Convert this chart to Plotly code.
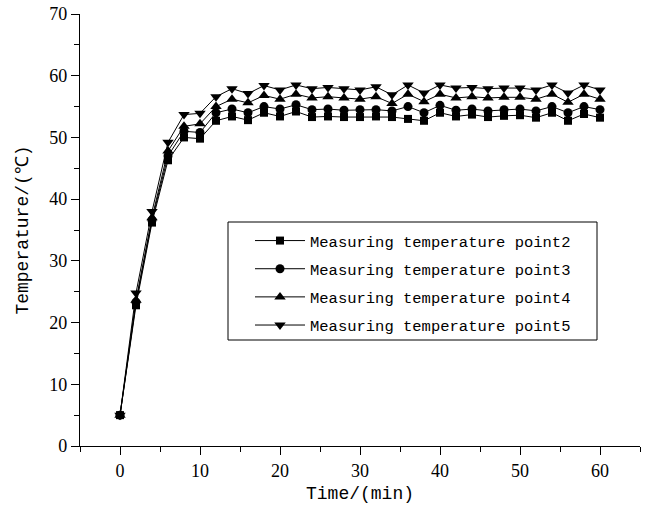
import plotly.graph_objects as go

time_min = [0, 2, 4, 6, 8, 10, 12, 14, 16, 18, 20, 22, 24, 26, 28, 30,
            32, 34, 36, 38, 40, 42, 44, 46, 48, 50, 52, 54, 56, 58, 60]

point2 = [5.0, 22.8, 36.2, 46.3, 50.0, 49.8, 52.7, 53.4, 52.8, 54.0, 53.4,
          54.2, 53.3, 53.4, 53.3, 53.3, 53.4, 53.3, 53.0, 52.7, 54.0, 53.4,
          53.7, 53.3, 53.5, 53.6, 53.2, 54.0, 52.7, 53.8, 53.2]
point3 = [5.0, 23.3, 36.6, 47.0, 51.0, 50.8, 54.0, 54.6, 54.0, 55.0, 54.6,
          55.3, 54.5, 54.6, 54.4, 54.5, 54.5, 54.3, 55.0, 54.0, 55.2, 54.4,
          54.6, 54.3, 54.5, 54.6, 54.3, 55.0, 54.0, 55.0, 54.5]
point4 = [5.0, 23.6, 37.0, 47.8, 51.8, 52.2, 55.0, 56.2, 55.6, 56.8, 56.2,
          57.0, 56.4, 56.6, 56.4, 56.2, 56.6, 55.5, 57.0, 55.8, 57.0, 56.4,
          56.6, 56.4, 56.5, 56.5, 56.2, 57.0, 55.7, 57.0, 56.2]
point5 = [5.0, 24.8, 38.0, 49.2, 53.7, 53.9, 56.6, 57.9, 57.1, 58.4, 57.7,
          58.5, 57.9, 58.1, 57.9, 57.7, 58.2, 56.9, 58.5, 57.2, 58.5, 58.0,
          58.1, 57.9, 58.0, 58.0, 57.7, 58.5, 57.2, 58.5, 57.7]

series_names = ["Measuring temperature point2", "Measuring temperature point3",
                "Measuring temperature point4", "Measuring temperature point5"]
series_values = [point2, point3, point4, point5]
symbols = ["square", "circle", "triangle-up", "triangle-down"]
sizes = [8, 9, 10, 10]

x_ticks = [0, 10, 20, 30, 40, 50, 60]
y_ticks = [0, 10, 20, 30, 40, 50, 60, 70]

fig = go.Figure()
for i, (name, vals, sym, sz) in enumerate(zip(series_names, series_values, symbols, sizes)):
    fig.add_trace(go.Scatter(
        x=time_min, y=vals, name=name, mode="lines+markers",
        legendgroup=f"g{i}",
        line=dict(color="black", width=1),
        marker=dict(symbol=sym, size=sz, color="black", line=dict(width=0)),
    ))

axis_common = dict(
    showline=True, linecolor="black", linewidth=1.2,
    ticks="outside", tickcolor="black", ticklen=8, tickwidth=1.2,
    showgrid=False, zeroline=False, automargin=False,
    tickfont=dict(family="Liberation Serif", size=18, color="black"),
)

fig.update_layout(
    width=649, height=509,
    margin=dict(l=80, r=9, t=14, b=63),
    paper_bgcolor="white", plot_bgcolor="white",
    font=dict(family="Liberation Mono", color="black"),
    xaxis=dict(range=[-5, 65], tickvals=x_ticks,
               minor=dict(ticks="outside", ticklen=5, dtick=5, tick0=0,
                          tickcolor="black", tickwidth=1.2, showgrid=False),
               title=dict(text="Time/(min)", font=dict(family="Liberation Mono", size=18),
                          standoff=6),
               **axis_common),
    yaxis=dict(range=[0, 70], tickvals=y_ticks,
               minor=dict(ticks="outside", ticklen=5, dtick=5, tick0=0,
                          tickcolor="black", tickwidth=1.2, showgrid=False),
               title=dict(text="Temperature/(℃)", font=dict(family="Liberation Mono", size=18),
                          standoff=15),
               **axis_common),
    legend=dict(x=(250 - 80) / 560, y=(446 - 224) / 432, xanchor="left", yanchor="top",
                borderwidth=0, bgcolor="rgba(255,255,255,0)", itemwidth=50,
                font=dict(family="Liberation Mono", size=15.5, color="black"),
                tracegroupgap=5),
    shapes=[dict(type="rect", xref="paper", yref="paper",
                 x0=(228 - 80) / 560, x1=(597 - 80) / 560,
                 y0=(446 - 340) / 432, y1=(446 - 222) / 432,
                 line=dict(color="black", width=1), fillcolor="white", layer="below")],
    showlegend=True,
)

fig.write_html("out.html", config={"displayModeBar": False},
               post_script="document.body.style.margin='0';document.body.style.overflow='hidden';")
